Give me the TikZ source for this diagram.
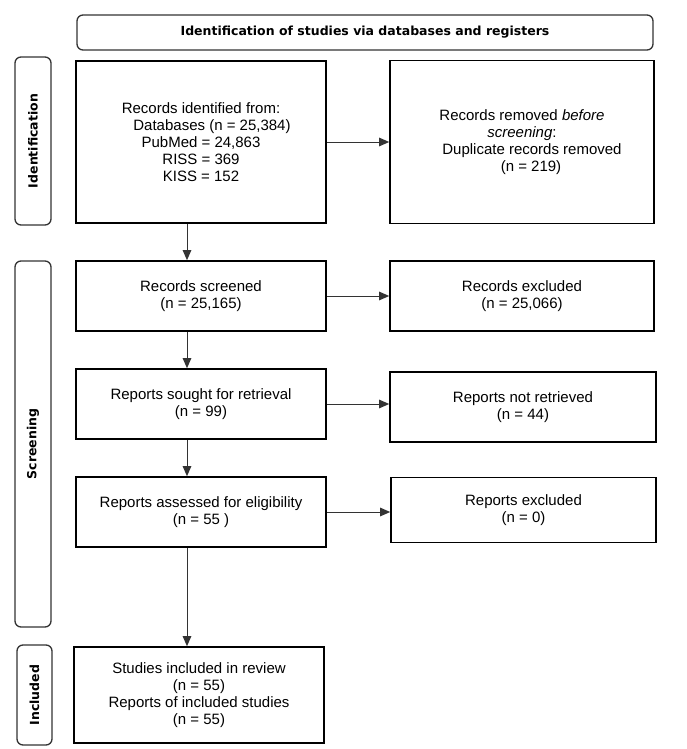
\documentclass[tikz,border=0pt]{standalone}
\usepackage{fontspec}
\setmainfont{Liberation Sans}
\newfontfamily\hdrfont{DejaVu Sans}
\usetikzlibrary{arrows.meta}
\tikzset{
  box/.style={draw=black, line width=1.6pt, inner sep=0pt, align=center,
    font=\fontsize{15}{17}\selectfont},
  lab/.style={draw=black!80, line width=1.3pt, rounded corners=6pt, inner sep=0pt,
    font=\hdrfont\bfseries\fontsize{12.5}{14}\selectfont},
  conn/.style={draw=black!80, line width=1pt, -{Triangle[length=10pt,width=8.5pt]}},
}
\begin{document}
\begin{tikzpicture}[x=1pt,y=-1pt]
\useasboundingbox (0,0) rectangle (686,749);
% header and side labels
\node[lab, minimum width=576pt, minimum height=35pt] (hdr) at (365,32.5)
  {Identification of studies via databases and registers};
\node[lab, minimum width=36pt, minimum height=168pt] (idlab) at (33,141) {};
\node[rotate=90, font=\hdrfont\bfseries\fontsize{12.5}{14}\selectfont] (idtxt) at (idlab.center) {Identification};
\node[lab, minimum width=36pt, minimum height=366pt] (scrlab) at (33,444) {};
\node[rotate=90, font=\hdrfont\bfseries\fontsize{12.5}{14}\selectfont] (scrtxt) at (scrlab.center) {Screening};
\node[lab, minimum width=35pt, minimum height=100pt] (inclab) at (34.5,695) {};
\node[rotate=90, font=\hdrfont\bfseries\fontsize{12.5}{14}\selectfont] (inctxt) at (inclab.center) {Included};
% main boxes
\node[box, minimum width=250pt, minimum height=162pt] (rec) at (201,142)
  {Records identified from:\\ \hspace*{22pt}Databases (n = 25,384)\\ PubMed = 24,863\\ RISS = 369\\ KISS = 152};
\node[box, minimum width=264pt, minimum height=163pt] (rem) at (522,142)
  {Records removed \textit{before}\\ \textit{screening}:\\ \hspace*{20pt}Duplicate records removed\\ \hspace*{18pt}(n = 219)};
\node[box, minimum width=250pt, minimum height=70pt] (scr) at (201,296)
  {Records screened\\ (n = 25,165)};
\node[box, minimum width=264pt, minimum height=70pt] (excl) at (522,296)
  {Records excluded\\ (n = 25,066)};
\node[box, minimum width=250pt, minimum height=70pt] (sought) at (201,404)
  {Reports sought for retrieval\\ (n = 99)};
\node[box, minimum width=266pt, minimum height=70pt] (notret) at (523,407)
  {Reports not retrieved\\ (n = 44)};
\node[box, minimum width=250pt, minimum height=70pt] (assess) at (201,512)
  {Reports assessed for eligibility\\ (n = 55 )};
\node[box, minimum width=265pt, minimum height=65pt] (repexcl) at (523.5,510)
  {Reports excluded\\ (n = 0)};
\node[box, minimum width=250pt, minimum height=96pt] (incl) at (199,695)
  {Studies included in review\\ (n = 55)\\ Reports of included studies\\ (n = 55)};
% connectors
\coordinate (ax) at (187,0);
\draw[conn] (rec.south -| ax) -- (scr.north -| ax);
\draw[conn] (scr.south -| ax) -- (sought.north -| ax);
\draw[conn] (sought.south -| ax) -- (assess.north -| ax);
\draw[conn] (assess.south -| ax) -- (incl.north -| ax);
\draw[conn] (rec.east) -- (rem.west);
\draw[conn] (scr.east) -- (excl.west |- scr.east);
\draw[conn] (sought.east) -- (notret.west |- sought.east);
\draw[conn] (assess.east) -- (repexcl.west |- assess.east);
\end{tikzpicture}
\end{document}
